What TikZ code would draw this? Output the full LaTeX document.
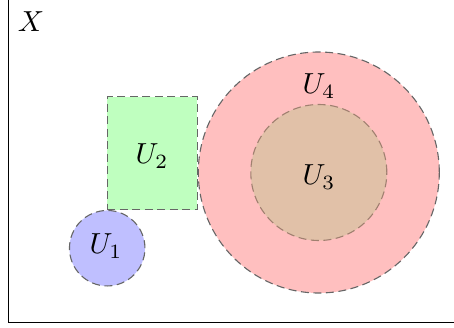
\documentclass[tikz,border=0pt]{standalone}
\usetikzlibrary{calc}
\definecolor{uthree}{RGB}{225,193,168}
\definecolor{uthreeline}{RGB}{160,128,112}
\tikzset{
  setdash/.style={draw=black!60, line width=1.1pt, dash pattern=on 8pt off 4.5pt},
  lbl/.style={inner sep=0pt, scale=2.9}
}
\begin{document}
\begin{tikzpicture}[x=1pt,y=-1pt]
\useasboundingbox (0,0) rectangle (454,327);
\clip (0,0) rectangle (454,327);
\draw[line width=1.2pt] (8.5,-20) -- (8.5,322.8) -- (470,322.8);
\node[lbl] (X) at (31,22) {$X$};
% U4 and U3
\node[circle, minimum size=241pt, inner sep=0pt, fill=red!25, setdash] (c4) at (318.8,172.5) {};
\node[circle, minimum size=136pt, inner sep=0pt, fill=uthree, setdash, draw=uthreeline] (c3) at (318.8,172.5) {};
\node[lbl] (l4) at (319,86) {$U_4$};
\node[lbl] (l3) at (319,177) {$U_3$};
% U2
\node[rectangle, minimum width=90pt, minimum height=113pt, inner sep=0pt, fill=green!25, setdash] (r2) at (152.3,153) {};
\node[lbl] (l2) at (152,156) {$U_2$};
% U1
\node[circle, minimum size=75.5pt, inner sep=0pt, fill=blue!25, setdash] (c1) at (107.2,248.2) {};
\node[lbl] (l1) at (106,246) {$U_1$};
\end{tikzpicture}
\end{document}
